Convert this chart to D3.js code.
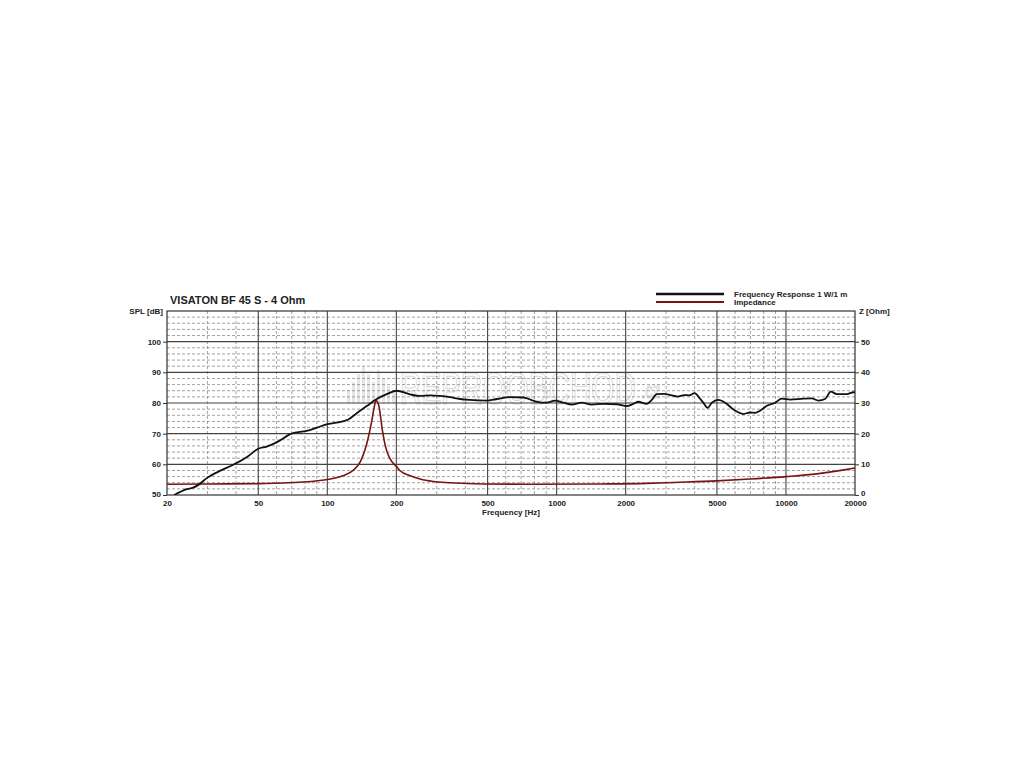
<!DOCTYPE html>
<html><head><meta charset="utf-8">
<script src="https://cdn.jsdelivr.net/npm/d3@7"></script>
<style>
html,body{margin:0;padding:0;background:#fff;}
text{font-family:"Liberation Sans",Arial,sans-serif;font-weight:bold;fill:#222;}
</style></head>
<body>
<svg id="chart" width="1024" height="768"></svg>
<script>
const title = "VISATON BF 45 S - 4 Ohm";
const legendLabels = ["Frequency Response 1 W/1 m", "Impedance"];
const xTickLabels = [20, 50, 100, 200, 500, 1000, 2000, 5000, 10000, 20000];
const xMinorTicks = [30, 40, 60, 70, 80, 90, 300, 400, 600, 700, 800, 900, 3000, 4000, 6000, 7000, 8000, 9000];
const splTicks = [50, 60, 70, 80, 90, 100];
const zTicks = [0, 10, 20, 30, 40, 50];

// Frequency response (Hz, dB)
const splFreq = [21.5, 24.4, 26.0, 27.4, 29.8, 34.6, 38.3, 44.5, 50, 54.4, 61.2, 69.8, 81.2, 89.7, 99.3, 109.8, 123.4, 134, 148.6, 164.2, 181.6, 200.8, 229.6, 253.8, 280.6, 310, 342.8, 379, 418, 496, 548, 624, 716, 819, 906, 984, 1070, 1165, 1286, 1422, 1600, 1830, 2020, 2160, 2270, 2470, 2600, 2736, 2930, 3140, 3364, 3597, 3790, 3994, 4210, 4360, 4560, 4750, 5070, 5430, 5900, 6520, 6970, 7330, 7710, 8250, 8970, 9590, 10420, 11910, 12960, 13850, 14810, 15690, 16660, 18420, 19690, 20000];
const splValues = [50.0, 51.9, 52.4, 53.3, 55.5, 58.1, 59.6, 62.3, 65.1, 65.8, 67.5, 70.0, 70.9, 71.9, 73.0, 73.6, 74.6, 76.6, 79.0, 81.3, 82.9, 84.0, 82.8, 82.3, 82.5, 82.3, 81.9, 81.3, 81.0, 80.8, 81.3, 81.9, 81.8, 80.4, 80.1, 80.8, 80.1, 79.5, 80.1, 79.5, 79.7, 79.6, 79.0, 79.7, 80.4, 79.7, 81.0, 82.9, 83.0, 82.6, 82.1, 82.6, 82.5, 83.2, 81.5, 80.1, 78.4, 80.1, 81.0, 80.1, 77.9, 76.4, 76.9, 76.8, 77.5, 79.1, 80.1, 81.4, 81.1, 81.4, 81.5, 80.8, 81.3, 83.7, 82.9, 82.9, 83.5, 83.5];

// Impedance (Hz, Ohm)
const zFreq = [20, 30, 50, 71, 87.5, 103, 117, 130, 139, 148.6, 156.5, 160, 163, 167.6, 173.9, 179.6, 187.9, 200.8, 207.6, 230, 254, 290, 343, 478, 800, 1560, 2470, 3250, 4990, 6970, 10000, 13630, 17650, 20000];
const zValues = [3.5, 3.6, 3.7, 4.1, 4.5, 5.2, 6.3, 8.1, 10.7, 16.7, 24.4, 28.5, 30.8, 29.3, 21.1, 15.6, 11.8, 9.2, 7.9, 6.3, 5.2, 4.4, 4.0, 3.6, 3.5, 3.6, 3.8, 4.1, 4.6, 5.2, 6.0, 6.9, 8.1, 8.8];

const svg = d3.select("#chart");
const L = 167, R = 855, T = 311, B = 495;
const x = d3.scaleLog().domain([20, 20000]).range([L, R]);
const y = d3.scaleLinear().domain([50, 110]).range([B, T]);
const z = d3.scaleLinear().domain([0, 60]).range([B, T]);

// watermark
const wm = svg.append("g").attr("opacity", 0.9);
const bars = [14, 22, 30, 38, 30, 22, 34, 26, 18, 12];
wm.selectAll("rect").data(bars).join("rect")
  .attr("x", (d, i) => 347 + i * 5).attr("y", d => 404 - d).attr("width", 3).attr("height", d => d)
  .attr("fill", "#e4e4e4");
const wmText = wm.append("text").attr("transform", "translate(400,404) scale(0.675,1)")
  .style("font-size", "44px").style("font-weight", "normal").style("fill", "none")
  .style("stroke", "#d6d6d6").style("stroke-width", 1.2);
wmText.append("tspan").text("REPROOBCHOD");
wmText.append("tspan").attr("dx", 8).attr("dy", -6).style("font-size", "22px").text(".cz");

// minor horizontal grid
const minorY = d3.range(52, 110, 2).filter(v => v % 10 !== 0);
svg.append("g").selectAll("line").data(minorY).join("line")
  .attr("x1", L).attr("x2", R).attr("y1", d => y(d)).attr("y2", d => y(d))
  .attr("stroke", "#8a8a8a").attr("stroke-width", 0.8).attr("stroke-dasharray", "3,2");
// minor vertical grid
svg.append("g").selectAll("line").data(xMinorTicks).join("line")
  .attr("x1", d => x(d)).attr("x2", d => x(d)).attr("y1", T).attr("y2", B)
  .attr("stroke", "#8a8a8a").attr("stroke-width", 0.8).attr("stroke-dasharray", "3,2");
// major grid
svg.append("g").selectAll("line").data([60, 70, 80, 90, 100]).join("line")
  .attr("x1", L).attr("x2", R).attr("y1", d => y(d)).attr("y2", d => y(d))
  .attr("stroke", "#444").attr("stroke-width", 1.1);
svg.append("g").selectAll("line").data(xTickLabels.slice(1, -1)).join("line")
  .attr("x1", d => x(d)).attr("x2", d => x(d)).attr("y1", T).attr("y2", B)
  .attr("stroke", "#444").attr("stroke-width", 1.1);
// frame
svg.append("rect").attr("x", L).attr("y", T).attr("width", R - L).attr("height", B - T)
  .attr("fill", "none").attr("stroke", "#333").attr("stroke-width", 1.2);

// axes
const leftAxis = d3.axisLeft(y).tickValues(splTicks).tickSize(4).tickPadding(2);
const gl = svg.append("g").attr("transform", `translate(${L},0)`).call(leftAxis);
const rightAxis = d3.axisRight(z).tickValues(zTicks).tickSize(4).tickPadding(2);
const gr = svg.append("g").attr("transform", `translate(${R},0)`).call(rightAxis);
const bottomAxis = d3.axisBottom(x).tickValues(xTickLabels).tickFormat(d3.format("d")).tickSize(0).tickPadding(5);
const gb = svg.append("g").attr("transform", `translate(0,${B})`).call(bottomAxis);
[gl, gr, gb].forEach(g => {
  g.select(".domain").remove();
  g.selectAll(".tick line").attr("stroke", "#333");
  g.selectAll("text").style("font-size", "8px").style("font-family", "'Liberation Sans',Arial,sans-serif").style("font-weight", "bold").attr("fill", "#222");
});
gr.selectAll(".tick").filter(d => d === 0).select("text").attr("y", -2);
gl.selectAll(".tick").filter(d => d === 50).select("text").attr("y", -1);

// axis titles
svg.append("text").attr("x", 163).attr("y", 314).attr("text-anchor", "end").style("font-size", "8px").text("SPL [dB]");
svg.append("text").attr("x", 859).attr("y", 314).attr("text-anchor", "start").style("font-size", "8px").text("Z [Ohm]");
svg.append("text").attr("x", 511).attr("y", 515).attr("text-anchor", "middle").style("font-size", "8px").text("Frequency [Hz]");
svg.append("text").attr("x", 170).attr("y", 304).style("font-size", "11px").text(title);

// legend
const legendColors = ["#111", "#7a1414"];
const lg = svg.append("g");
lg.selectAll("line").data(legendLabels).join("line")
  .attr("x1", 656).attr("x2", 724).attr("y1", (d, i) => 294 + i * 8).attr("y2", (d, i) => 294 + i * 8)
  .attr("stroke", (d, i) => legendColors[i]).attr("stroke-width", (d, i) => i === 0 ? 2.6 : 1.8);
lg.selectAll("text").data(legendLabels).join("text")
  .attr("x", 734).attr("y", (d, i) => 297 + i * 8).style("font-size", "8px").text(d => d);

// curves
const clip = svg.append("clipPath").attr("id", "plotclip").append("rect")
  .attr("x", L).attr("y", T).attr("width", R - L).attr("height", B - T);
const zLine = d3.line().x((d, i) => x(zFreq[i])).y(d => z(d)).curve(d3.curveMonotoneX);
svg.append("path").datum(zValues).attr("d", zLine).attr("fill", "none")
  .attr("stroke", "#7a1414").attr("stroke-width", 1.6).attr("clip-path", "url(#plotclip)");
const sLine = d3.line().x((d, i) => x(splFreq[i])).y(d => y(d)).curve(d3.curveMonotoneX);
svg.append("path").datum(splValues).attr("d", sLine).attr("fill", "none")
  .attr("stroke", "#111").attr("stroke-width", 1.8).attr("clip-path", "url(#plotclip)");
</script>
</body></html>
